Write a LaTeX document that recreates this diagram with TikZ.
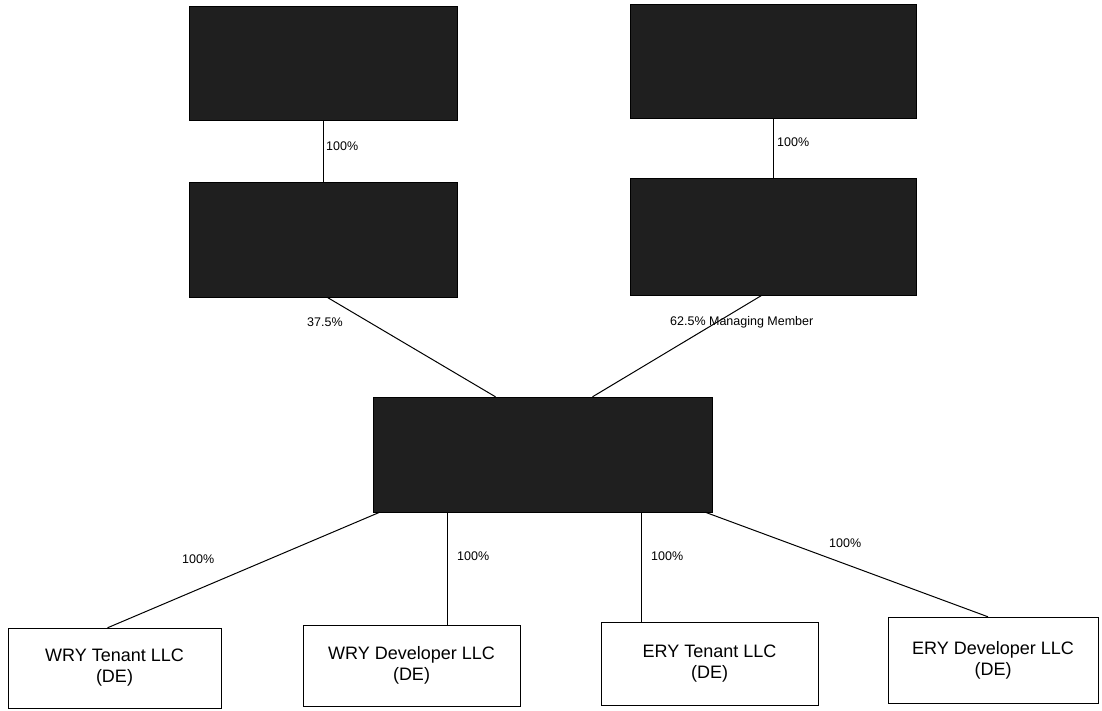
\documentclass[tikz,border=0pt]{standalone}
\usepackage{fontspec}
\setmainfont{Liberation Sans}
\begin{document}
\begin{tikzpicture}[x=1pt,y=-1pt,
		redacted/.style={draw,fill=black!88,inner sep=0pt},
		entity/.style={draw,fill=white,inner sep=0pt,align=center,font=\fontsize{18}{21}\selectfont},
		pct/.style={anchor=west,inner sep=0pt,font=\fontsize{12.5}{14}\selectfont},
		link/.style={line width=1pt}]
	\useasboundingbox (0,0) rectangle (1102,710);
	
	\node[redacted,minimum width=268pt,minimum height=114pt] (parL) at (323,63) {};
	\node[redacted,minimum width=268pt,minimum height=115pt] (subL) at (323,239.5) {};
	\node[redacted,minimum width=286pt,minimum height=114pt] (parR) at (773,61) {};
	\node[redacted,minimum width=286pt,minimum height=117pt] (subR) at (773,236.5) {};
	\node[redacted,minimum width=339pt,minimum height=115pt] (hold) at (542.5,454.5) {};
	
	\node[entity,minimum width=213pt,minimum height=80pt] (wryT) at (114.5,668) {WRY Tenant LLC\\(DE)};
	\node[entity,minimum width=217pt,minimum height=81pt] (wryD) at (411.5,665.5) {WRY Developer LLC\\(DE)};
	\node[entity,minimum width=217pt,minimum height=83pt] (eryT) at (709.5,663.5) {ERY Tenant LLC\\(DE)};
	\node[entity,minimum width=210pt,minimum height=86pt] (eryD) at (993,660) {ERY Developer LLC\\(DE)};
	
	\draw[link] (parL.south) -- (subL.north);
	\draw[link] (parR.south) -- (subR.north);
	\draw[link] ([xshift=4pt]subL.south) -- ([xshift=-47pt]hold.north);
	\draw[link] ([xshift=-11pt]subR.south) -- ([xshift=50pt]hold.north);
	
	\draw[link] ([xshift=7pt]hold.south west) -- ([xshift=-7pt]wryT.north);
	\draw[link] ([xshift=36pt]wryD.north) -- ([xshift=36pt]wryD.north |- hold.south);
	\draw[link] ([xshift=-68pt]eryT.north) -- ([xshift=-68pt]eryT.north |- hold.south);
	\draw[link] ([xshift=-7pt]hold.south east) -- ([xshift=-5pt]eryD.north);
	
	\node[pct] (pA) at (326,146) {100\%};
	\node[pct] (pB) at (777,142) {100\%};
	\node[pct] (pC) at (307,322) {37.5\%};
	\node[pct] (pD) at (670,322) {62.5\% Managing Member};
	\node[pct] (pE) at (182,559) {100\%};
	\node[pct] (pF) at (457,556) {100\%};
	\node[pct] (pG) at (651,556) {100\%};
	\node[pct] (pH) at (829,543) {100\%};
\end{tikzpicture}
\end{document}
